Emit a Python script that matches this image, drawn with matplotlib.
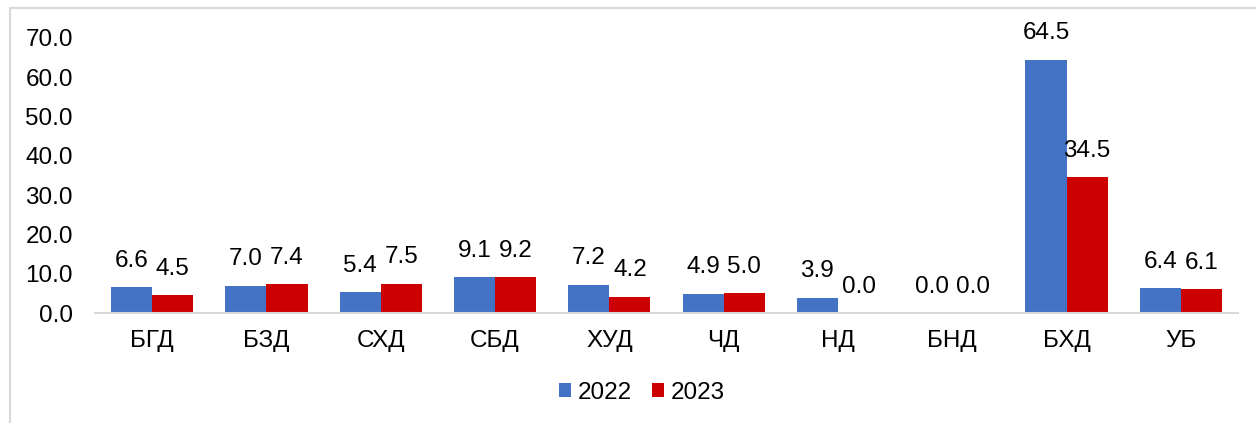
import matplotlib
matplotlib.use("Agg")
import matplotlib.pyplot as plt
import numpy as np
from matplotlib.patches import Rectangle

plt.rcParams['font.family'] = ['Liberation Sans', 'DejaVu Sans']

categories = ["БГД", "БЗД", "СХД", "СБД", "ХУД", "ЧД", "НД", "БНД", "БХД", "УБ"]
values_2022 = [6.6, 7.0, 5.4, 9.1, 7.2, 4.9, 3.9, 0.0, 64.5, 6.4]
values_2023 = [4.5, 7.4, 7.5, 9.2, 4.2, 5.0, 0.0, 0.0, 34.5, 6.1]
series_labels = ["2022", "2023"]
yticks = [0, 10, 20, 30, 40, 50, 60, 70]

W, H = 1256, 423
fig = plt.figure(figsize=(W / 100, H / 100), dpi=100)
fig.patch.set_facecolor("white")
# chart border (right/bottom edges fall outside the image)
fig.add_artist(Rectangle((10 / W, -0.1), 1.2, 1 - 8 / H + 0.1, transform=fig.transFigure,
                         fill=False, edgecolor="#d9d9d9", linewidth=1.5))

ax = fig.add_axes([95 / W, 1 - 313 / H, (1238 - 95) / W, (313 - 38) / H])

x = np.arange(len(categories))
bw = 0.36
colors = ["#4472C4", "#CC0000"]
fs = 17.5
for i, (vals, col, lab) in enumerate(zip([values_2022, values_2023], colors, series_labels)):
    pos = x + (i - 0.5) * bw
    bars = ax.bar(pos, vals, width=bw, color=col, label=lab, zorder=2)
    for xp, v in zip(pos, vals):
        ax.annotate(f"{v:.1f}", (xp, v), xytext=(0, 11), textcoords="offset points",
                    ha="center", va="bottom", fontsize=fs, color="black",
                    annotation_clip=False)

ax.set_xlim(-0.5, len(categories) - 0.5)
ax.set_ylim(0, 70)
ax.set_yticks(yticks)
ax.set_yticklabels([f"{t:.1f}" for t in yticks], fontsize=fs)
ax.set_xticks(x)
ax.set_xticklabels(categories, fontsize=fs)
ax.tick_params(axis="both", length=0)
ax.tick_params(axis="x", pad=12)
ax.tick_params(axis="y", pad=16)
for s in ["top", "right", "left"]:
    ax.spines[s].set_visible(False)
ax.spines["bottom"].set_color("#d9d9d9")
ax.spines["bottom"].set_linewidth(1.5)
ax.spines["bottom"].set_zorder(3)

leg = fig.legend(loc="center", bbox_to_anchor=(642 / W, 1 - 393 / H), ncol=2, frameon=False,
                 fontsize=fs, handlelength=0.5, handleheight=0.5, handletextpad=0.3,
                 columnspacing=0.8)

fig.savefig("out.png", dpi=100)
